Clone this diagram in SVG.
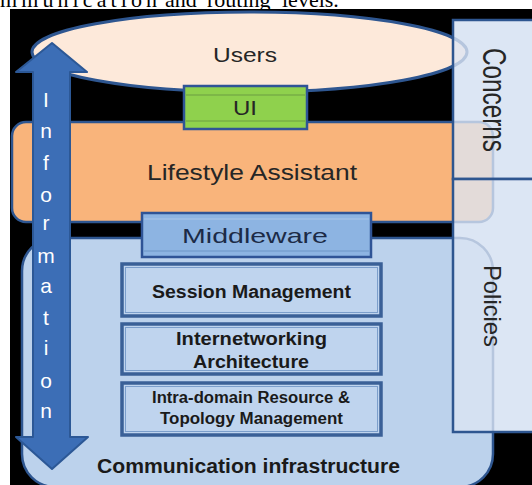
<svg xmlns="http://www.w3.org/2000/svg" width="532" height="485" viewBox="0 0 532 485">
  <style>
    .edge { stroke: #2e5690; stroke-width: 2.5; }
    .lbl { font-family: "Liberation Sans", Arial, sans-serif; fill: #262626; }
    .bold { font-family: "Liberation Sans", Arial, sans-serif; font-weight: bold; fill: #1a1a1a; }
    .info { font-family: "Liberation Sans", Arial, sans-serif; font-size: 21px; fill: #ffffff; text-anchor: middle; }
    .panel { fill: #dce6f3; }
    .box { fill: #bfd4ee; stroke: #3a6097; stroke-width: 3.5; }
    .boxin { fill: none; stroke: #7b9ecb; stroke-width: 1; }
  </style>

  <!-- caption fragment above the figure -->
  <g id="caption" font-family="Liberation Serif, Times New Roman, serif" font-size="22" fill="#000">
    <text x="0" y="7" textLength="157" lengthAdjust="spacing">mmunication</text>
    <text x="165" y="7">and</text>
    <text x="207" y="7">routing</text>
    <text x="282" y="7">levels.</text>
  </g>

  <!-- backdrop -->
  <rect x="10" y="9" width="522" height="476" fill="#000"/>

  <!-- side panels (opaque base) -->
  <g id="panel-base">
    <rect class="panel" x="453" y="20" width="90" height="159"/>
    <rect class="panel" x="453" y="179" width="90" height="253"/>
  </g>

  <!-- Communication infrastructure -->
  <g id="comm">
    <rect x="22" y="238" width="471" height="249" rx="33" fill="#bcd2ec" class="edge"/>
    <text class="bold" x="97" y="473" font-size="20" textLength="303" lengthAdjust="spacingAndGlyphs">Communication infrastructure</text>
  </g>

  <!-- Lifestyle Assistant -->
  <g id="lifestyle">
    <rect x="12" y="122" width="481" height="100" rx="14" fill="#f9b47b" class="edge"/>
    <text class="lbl" x="147" y="180" font-size="22" textLength="210" lengthAdjust="spacingAndGlyphs">Lifestyle Assistant</text>
  </g>

  <!-- Users -->
  <g id="users">
    <ellipse cx="249.5" cy="52" rx="217.5" ry="40" fill="#fde9da" stroke="#2e5690" stroke-width="3"/>
    <text class="lbl" x="213" y="62" font-size="20" textLength="64" lengthAdjust="spacingAndGlyphs">Users</text>
  </g>

  <!-- UI -->
  <g id="ui">
    <rect x="184" y="86" width="123" height="43" fill="#8fd14d" stroke="#2f5496" stroke-width="2.5"/>
    <line x1="186" y1="95" x2="305" y2="95" stroke="#6d9e43" stroke-width="1.2"/>
    <line x1="186" y1="121" x2="305" y2="121" stroke="#6d9e43" stroke-width="1.2"/>
    <text class="lbl" x="233" y="115" font-size="20" textLength="24" lengthAdjust="spacingAndGlyphs">UI</text>
  </g>

  <!-- Middleware -->
  <g id="middleware">
    <rect x="142" y="213" width="229" height="44" fill="#8db4e2" stroke="#2f5496" stroke-width="2.5"/>
    <line x1="144" y1="219" x2="369" y2="219" stroke="#a9c6ea" stroke-width="1.2"/>
    <line x1="144" y1="251" x2="369" y2="251" stroke="#6f95c6" stroke-width="1.2"/>
    <text x="182" y="243" font-size="21" textLength="146" lengthAdjust="spacingAndGlyphs" font-family="Liberation Sans, Arial, sans-serif" fill="#1c2b47">Middleware</text>
  </g>

  <!-- Session Management -->
  <g id="session">
    <rect class="box" x="122" y="264" width="259" height="52"/>
    <rect class="boxin" x="125.5" y="267.5" width="252" height="45"/>
    <text class="bold" x="152" y="298" font-size="18" textLength="199" lengthAdjust="spacingAndGlyphs">Session Management</text>
  </g>

  <!-- Internetworking Architecture -->
  <g id="internetworking">
    <rect class="box" x="122" y="324" width="259" height="50"/>
    <rect class="boxin" x="125.5" y="327.5" width="252" height="43"/>
    <text class="bold" x="176" y="345" font-size="18" textLength="151" lengthAdjust="spacingAndGlyphs">Internetworking</text>
    <text class="bold" x="193" y="368" font-size="18" textLength="116" lengthAdjust="spacingAndGlyphs">Architecture</text>
  </g>

  <!-- Intra-domain Resource & Topology Management -->
  <g id="intradomain">
    <rect class="box" x="122" y="383" width="259" height="52"/>
    <rect class="boxin" x="125.5" y="386.5" width="252" height="45"/>
    <text class="bold" x="152" y="403" font-size="16" textLength="198" lengthAdjust="spacingAndGlyphs">Intra-domain Resource &amp;</text>
    <text class="bold" x="160" y="424" font-size="16" textLength="183" lengthAdjust="spacingAndGlyphs">Topology Management</text>
  </g>

  <!-- side panels (translucent cover + outlines) -->
  <g id="concerns">
    <rect x="453" y="20" width="90" height="159" fill="#dce6f3" fill-opacity="0.78" class="edge"/>
    <text class="lbl" font-size="24" transform="translate(483,48) rotate(90) scale(1,1.35)" textLength="104" lengthAdjust="spacingAndGlyphs">Concerns</text>
  </g>
  <g id="policies">
    <rect x="453" y="179" width="90" height="253" fill="#dce6f3" fill-opacity="0.78" class="edge"/>
    <text class="lbl" font-size="24" transform="translate(484,265) rotate(90)" textLength="82" lengthAdjust="spacingAndGlyphs">Policies</text>
  </g>

  <!-- Information flow arrow -->
  <g id="connectors">
    <path d="M52,43 L87,72 L70,72 L70,437 L88,437 L52,469 L16,437 L33,437 L33,72 L16,72 Z" fill="#3c6eb6" stroke="#2c5896" stroke-width="2" stroke-linejoin="round"/>
    <g id="information-label">
      <text class="info" x="46" y="107">I</text>
      <text class="info" x="46" y="138">n</text>
      <text class="info" x="46" y="170">f</text>
      <text class="info" x="46" y="202">o</text>
      <text class="info" x="46" y="230">r</text>
      <text class="info" x="46" y="263">m</text>
      <text class="info" x="46" y="293">a</text>
      <text class="info" x="46" y="325">t</text>
      <text class="info" x="46" y="355">i</text>
      <text class="info" x="46" y="388">o</text>
      <text class="info" x="46" y="418">n</text>
    </g>
  </g>
</svg>
